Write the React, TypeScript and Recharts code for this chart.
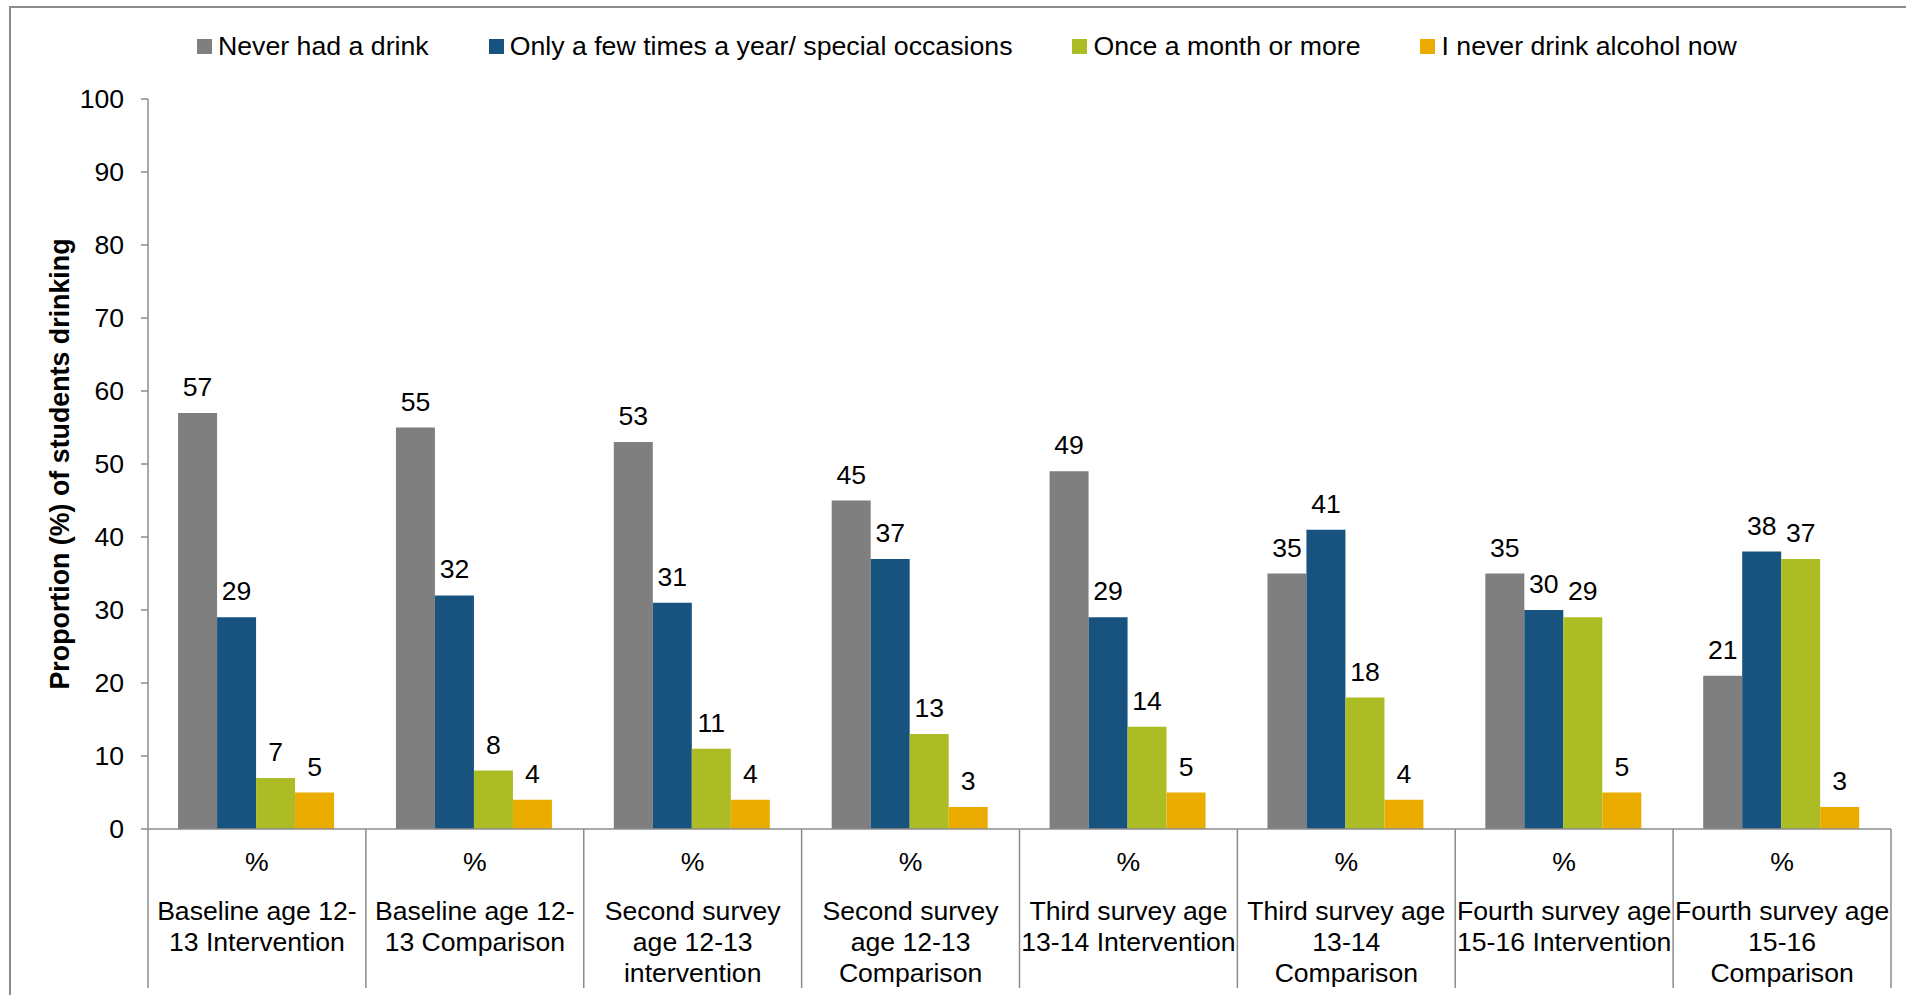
import { BarChart, Bar, XAxis, YAxis, Legend, LabelList } from 'recharts';

// categories: multi-line labels under the "%" row
const categories = [
  'Baseline age 12-\n13 Intervention',
  'Baseline age 12-\n13 Comparison',
  'Second survey\nage 12-13\nintervention',
  'Second survey\nage 12-13\nComparison',
  'Third survey age\n13-14 Intervention',
  'Third survey age\n13-14\nComparison',
  'Fourth survey age\n15-16 Intervention',
  'Fourth survey age\n15-16\nComparison',
];
const unitRow = '%';

const neverHadDrink = [57, 55, 53, 45, 49, 35, 35, 21];
const fewTimesYear = [29, 32, 31, 37, 29, 41, 30, 38];
const onceAMonth = [7, 8, 11, 13, 14, 18, 29, 37];
const neverNow = [5, 4, 4, 3, 5, 4, 5, 3];

const seriesNames = [
  'Never had a drink',
  'Only a few times a year/ special occasions',
  'Once a month or more',
  'I never drink alcohol now',
];
const seriesKeys = ['never', 'few', 'monthly', 'neverNow'];
const seriesColors = ['#7f7f7f', '#18527f', '#abbc25', '#ebac00'];

const yTicks = [0, 10, 20, 30, 40, 50, 60, 70, 80, 90, 100];

const data = categories.map((name, i) => ({
  name,
  never: neverHadDrink[i],
  few: fewTimesYear[i],
  monthly: onceAMonth[i],
  neverNow: neverNow[i],
}));

const FONT = '"Liberation Sans", Arial, Helvetica, sans-serif';
const FS = 26.6;
const AXIS_GRAY = '#8c8c8c';
const W = 1906;
const H = 995;
const MARGIN = { top: 99, right: 15, bottom: 0, left: 0 };
const Y_AXIS_W = 148;
const X_AXIS_H = 166;
const PLOT_W = W - MARGIN.right - Y_AXIS_W;

// custom tick: "%" row, wrapped category name and the separator lines
const CategoryTick = (props: any) => {
  const { x, y, payload, index } = props;
  const half = payload && payload.offset > 0 ? payload.offset : PLOT_W / categories.length / 2;
  const lines = String(payload.value).split('\n');
  const bottom = y + 159;
  return (
    <g>
      <line x1={x - half} x2={x - half} y1={y} y2={bottom} stroke={AXIS_GRAY} strokeWidth={1.5} />
      {index === categories.length - 1 && (
        <line x1={x + half} x2={x + half} y1={y} y2={bottom} stroke={AXIS_GRAY} strokeWidth={1.5} />
      )}
      <text x={x} y={y + 42} textAnchor="middle" fontSize={FS} fontFamily={FONT} fill="#000">
        {unitRow}
      </text>
      {lines.map((ln, i) => (
        <text key={i} x={x} y={y + 91 + i * 31} textAnchor="middle" fontSize={FS} fontFamily={FONT} fill="#000">
          {ln}
        </text>
      ))}
    </g>
  );
};

const AxisTitle = (props: any) => {
  const vb = props.viewBox || { x: 0, y: MARGIN.top, height: H - MARGIN.top - X_AXIS_H };
  const cx = vb.x + 69;
  const cy = vb.y + vb.height / 2;
  return (
    <text
      x={cx}
      y={cy}
      transform={`rotate(-90, ${cx}, ${cy})`}
      textAnchor="middle"
      fontSize={26.8}
      fontWeight="bold"
      fontFamily={FONT}
      fill="#000"
    >
      Proportion (%) of students drinking
    </text>
  );
};

// keep the legend in series order
const LegendContent = (props: any) => {
  const items = [...(props.payload || [])].sort(
    (a: any, b: any) => seriesNames.indexOf(a.value) - seriesNames.indexOf(b.value)
  );
  return (
    <div style={{ display: 'flex', alignItems: 'center', fontFamily: FONT, fontSize: 26.7, color: '#000', whiteSpace: 'nowrap' }}>
      {items.map((it: any, i: number) => (
        <div key={i} style={{ display: 'flex', alignItems: 'center', marginRight: 60 }}>
          <span style={{ width: 15, height: 15, background: it.color, marginRight: 6, display: 'inline-block' }} />
          <span style={{ lineHeight: '32px' }}>{it.value}</span>
        </div>
      ))}
    </div>
  );
};

export default function App() {
  return (
    <div style={{ position: 'absolute', left: 0, top: 0, width: W, height: H, background: '#fff', overflow: 'hidden' }}>
      <div
        style={{
          position: 'absolute',
          left: 9,
          top: 6,
          width: W + 20,
          height: H + 20,
          borderTop: `2px solid ${AXIS_GRAY}`,
          borderLeft: `2px solid ${AXIS_GRAY}`,
          boxSizing: 'border-box',
        }}
      />
      <div style={{ position: 'absolute', left: 0, top: 0 }}>
        <BarChart width={W} height={H} data={data} margin={MARGIN} barCategoryGap="13.8%" barGap={0}>
          <XAxis
            dataKey="name"
            interval={0}
            height={X_AXIS_H}
            tickLine={false}
            tickSize={0}
            tickMargin={0}
            axisLine={{ stroke: AXIS_GRAY, strokeWidth: 1.5 }}
            tick={<CategoryTick />}
          />
          <YAxis
            width={Y_AXIS_W}
            domain={[0, 100]}
            ticks={yTicks}
            interval={0}
            tickSize={7}
            tickMargin={17}
            axisLine={{ stroke: AXIS_GRAY, strokeWidth: 1.5 }}
            tickLine={{ stroke: AXIS_GRAY, strokeWidth: 1.5 }}
            tick={{ fontSize: FS, fill: '#000', fontFamily: FONT }}
            label={<AxisTitle />}
          />
          <Legend
            layout="horizontal"
            verticalAlign="middle"
            align="center"
            content={<LegendContent />}
            wrapperStyle={{ top: 30, left: 197, width: 'auto' }}
          />
          {seriesKeys.map((k, i) => (
            <Bar key={k} dataKey={k} name={seriesNames[i]} fill={seriesColors[i]} isAnimationActive={false}>
              <LabelList dataKey={k} position="top" offset={17} fill="#000" fontSize={FS} fontFamily={FONT} />
            </Bar>
          ))}
        </BarChart>
      </div>
    </div>
  );
}
